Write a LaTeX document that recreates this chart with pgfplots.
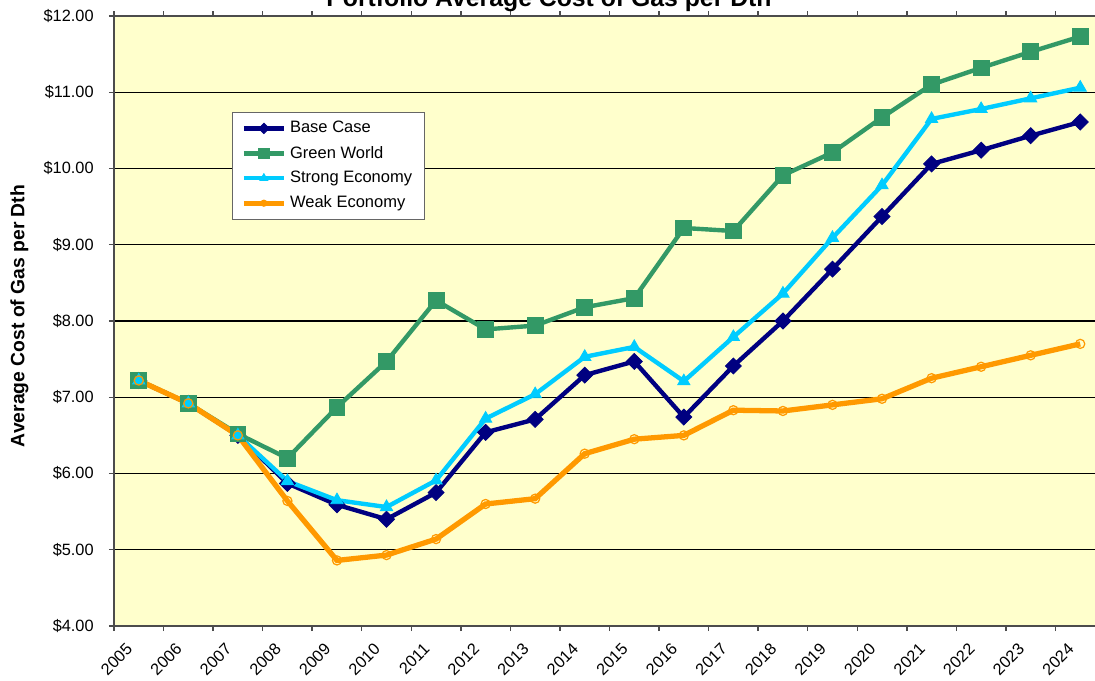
\documentclass[border=0pt]{standalone}
\usepackage{fontspec}
\setmainfont{Liberation Sans}
\usepackage{pgfplots}
\usepackage{pgfplotstable}
\pgfplotsset{compat=1.18}
\definecolor{basecase}{RGB}{0,0,128}
\definecolor{greenworld}{RGB}{51,153,102}
\definecolor{strongecon}{RGB}{0,204,255}
\definecolor{weakecon}{RGB}{255,153,0}
\definecolor{plotbg}{RGB}{255,255,204}

% x = category index, 0 = 2005
\pgfplotstableread{
idx base green strong weak
0  7.22  7.22  7.22  7.22
1  6.92  6.92  6.92  6.92
2  6.50  6.52  6.50  6.50
3  5.87  6.20  5.90  5.64
4  5.59  6.87  5.65  4.86
5  5.40  7.47  5.56  4.93
6  5.75  8.27  5.91  5.14
7  6.54  7.89  6.72  5.60
8  6.71  7.94  7.04  5.67
9  7.29  8.18  7.53  6.26
10 7.47  8.30  7.66  6.45
11 6.74  9.22  7.21  6.50
12 7.41  9.18  7.79  6.83
13 8.00  9.91  8.36  6.82
14 8.68  10.21 9.09  6.90
15 9.37  10.67 9.78  6.98
16 10.06 11.10 10.65 7.25
17 10.24 11.32 10.78 7.40
18 10.43 11.53 10.92 7.55
19 10.61 11.73 11.06 7.70
}\gascost

\begin{document}
\begin{tikzpicture}
\begin{axis}[
  at={(0,0)}, anchor=south west,
  scale only axis, width=19.82cm, height=12.2cm,
  xmin=-0.5, xmax=19.5, ymin=4, ymax=12,
  axis background/.style={fill=plotbg},
  axis line style={draw=black!70, line width=1.1pt},
  tick style={draw=black!70, line width=0.8pt},
  tick align=outside, major tick length=0.1cm, minor tick length=0.1cm,
  xtick={0,1,...,19},
  xticklabels={2005,2006,2007,2008,2009,2010,2011,2012,2013,2014,2015,2016,2017,2018,2019,2020,2021,2022,2023,2024},
  major x tick style={draw=none},
  minor xtick={-0.5,0.5,...,19.5},
  xticklabel style={xshift=-0.27cm, rotate=45, anchor=north east, inner sep=0pt},
  xticklabel shift=0.22cm,
  ytick={4,5,...,12},
  yticklabel={\$\pgfmathprintnumber[fixed,fixed zerofill,precision=2]{\tick}},
  yticklabel style={inner sep=0pt, xshift=-0.3cm},
  /pgf/number format/assume math mode=true,
  tick label style={font=\fontsize{9.3}{11}\selectfont},
  ymajorgrids, grid style={draw=black, line width=0.6pt},
  legend cell align=left,
  legend style={at={(rel axis cs:0.119,0.8426)}, anchor=north west,
    draw=black!60, line width=0.6pt, fill=white,
    font=\fontsize{9.4}{11}\selectfont,
    row sep=2pt, inner xsep=5pt, inner ysep=3pt},
  legend image code/.code={\draw[mark repeat=2,mark phase=2,#1,every mark/.append style={scale=0.65}] plot coordinates {(0cm,0cm) (0.4cm,0cm) (0.8cm,0cm)};},
]
\addplot[basecase, line width=2.5pt, mark=square*, mark size=3.2pt,
  mark options={rotate=45, solid, line width=0.5pt}] table[x=idx, y=base] {\gascost};
\addlegendentry{Base Case}
\addplot[greenworld, line width=2.5pt, mark=square*, mark size=4.5pt,
  mark options={solid, line width=0.5pt}] table[x=idx, y=green] {\gascost};
\addlegendentry{Green World}
\addplot[strongecon, line width=2.5pt, mark=triangle*, mark size=4pt,
  mark options={solid, line width=0.5pt}] table[x=idx, y=strong] {\gascost};
\addlegendentry{Strong Economy}
\addplot[weakecon, line width=3pt, mark=o, mark size=2.6pt,
  mark options={solid, line width=0.7pt}] table[x=idx, y=weak] {\gascost};
\addlegendentry{Weak Economy}
\end{axis}
\node[anchor=base, font=\bfseries\fontsize{14.1}{17}\selectfont] at (8.7cm,12.38cm) {Portfolio Average Cost of Gas per Dth};
\node[rotate=90, font=\bfseries\fontsize{11}{13}\selectfont] at (-1.89cm,6.2cm) {Average Cost of Gas per Dth};
\pgfresetboundingbox
\useasboundingbox (-2.28cm,-1.1cm) rectangle (19.62cm,12.52cm);
\end{tikzpicture}
\end{document}
